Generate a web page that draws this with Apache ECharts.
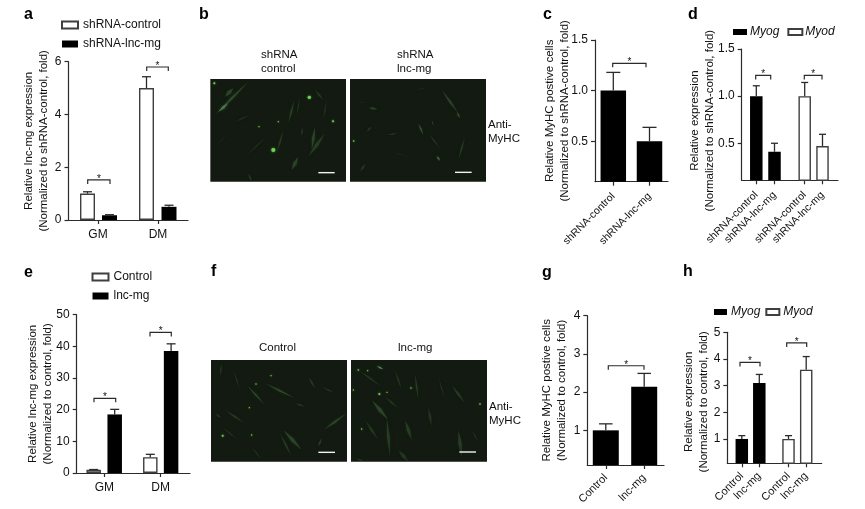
<!DOCTYPE html>
<html><head><meta charset="utf-8">
<style>html,body{margin:0;padding:0;background:#fff}#c{width:865px;height:509px}</style>
<script src="https://cdn.jsdelivr.net/npm/echarts@6/dist/echarts.min.js"></script>
</head><body><div id="c"></div>
<script>
// ---- values ----
const aGroups = ['GM', 'DM'];
const aControl = [1.0, 5.0];
const aControlErr = [1.07, 5.43];
const aLnc = [0.18, 0.5];
const aLncErr = [0.2, 0.56];

const cLabels = ['shRNA-control', 'shRNA-lnc-mg'];
const cValues = [1.0, 0.5];
const cErr = [1.18, 0.637];

const dLabels = ['shRNA-control', 'shRNA-lnc-mg', 'shRNA-control', 'shRNA-lnc-mg'];
const dMyog = [1.0, 0.41];
const dMyogErr = [1.11, 0.5];
const dMyod = [1.0, 0.47];
const dMyodErr = [1.145, 0.595];

const eGroups = ['GM', 'DM'];
const eControl = [1.0, 5.0];
const eControlErr = [1.1, 5.9];
const eLnc = [18.5, 38.5];
const eLncErr = [20.1, 40.8];

const gLabels = ['Control', 'lnc-mg'];
const gValues = [1.0, 2.14];
const gErr = [1.17, 2.49];

const hLabels = ['Control', 'lnc-mg', 'Control', 'lnc-mg'];
const hMyog = [1.0, 3.1];
const hMyogErr = [1.125, 3.42];
const hMyod = [1.0, 3.6];
const hMyodErr = [1.125, 4.09];

// ---- layout and styles ----
const FONT = '"Liberation Sans", Arial, sans-serif';
const INK = '#2b2b2b';
const BLACK = '#000000';
const WHITE = '#ffffff';
const panels = [
 {left:68.5,right:188,top:61.7,bottom:220,yMin:0,yMax:6,yTicks:[0,2,4,6],dec:0,nameGap:17,xFont:12,xMargin:9,
  yName:'Relative lnc-mg expression\n(Normalized to shRNA-control, fold)',barW:15,cap:9,
  groups:[{name:'shRNA-control',fill:WHITE,values:aControl,errs:aControlErr,slots:[19,78]},
          {name:'shRNA-lnc-mg',fill:BLACK,values:aLnc,errs:aLncErr,slots:[41,100.5]}],
  labels:aGroups,ticks:[29.5,89.5],rotate:0,
  brackets:[[19.2,41.5,1.52],[78.2,99.8,5.8]],
  legend:{left:61,top:19,orient:'vertical',itemGap:7}},
 {left:595,right:668,top:40,bottom:181.7,yMin:0.1,yMax:1.5,yTicks:[0.5,1,1.5],dec:1,nameGap:22.5,xFont:10.5,xMargin:13,
  yName:'Relative MyHC postive cells\n(Normalized to shRNA-control, fold)',barW:25.5,cap:14,
  groups:[{name:'c',fill:BLACK,values:cValues,errs:cErr,slots:[18.3,54.5]}],
  labels:cLabels,ticks:[18.3,54.5],rotate:45,brackets:[[17.7,51,1.27]]},
 {left:741.7,right:838,top:49,bottom:180.3,yMin:0.107,yMax:1.5,yTicks:[0.5,1,1.5],dec:1,namePad:[0,12,0,0],nameGap:24,xFont:10.5,xMargin:13,
  yName:'Relative expression\n(Normalized to shRNA-control, fold)',barW:12.5,cap:7,
  groups:[{name:'Myog',fill:BLACK,values:dMyog,errs:dMyogErr,slots:[14.6,32.8]},
          {name:'Myod',fill:WHITE,values:dMyod,errs:dMyodErr,slots:[63,80.8]}],
  labels:dLabels,ticks:[14.6,32.8,63,80.8],rotate:45,brackets:[[14,29,1.22],[62.6,80.3,1.22]],
  legend:{left:733,top:26,orient:'horizontal',itemGap:8,italic:true,itemW:14,itemH:6,textPad:-2}},
 {left:76.7,right:190,top:314.7,bottom:473,yMin:0,yMax:50,yTicks:[0,10,20,30,40,50],dec:0,nameGap:21,xFont:12,xMargin:9,
  yName:'Relative lnc-mg expression\n(Normalized to control, fold)',barW:14.5,cap:9,
  groups:[{name:'Control',fill:WHITE,values:eControl,errs:eControlErr,slots:[17,73.6]},
          {name:'lnc-mg',fill:BLACK,values:eLnc,errs:eLncErr,slots:[38,94.4]}],
  labels:eGroups,ticks:[27.6,84],rotate:0,
  brackets:[[17.3,39,23.6],[73.3,94.6,44.4]],
  legend:{left:91.5,top:271,orient:'vertical',itemGap:7}},
 {left:587.3,right:664,top:315.7,bottom:465,yMin:0.093,yMax:4,yTicks:[1,2,3,4],dec:0,nameGap:18,xFont:11,xMargin:11,
  yName:'Relative MyHC postive cells\n(Normalized to control, fold)',barW:26,cap:13.5,
  groups:[{name:'g',fill:BLACK,values:gValues,errs:gErr,slots:[18.5,56.9]}],
  labels:gLabels,ticks:[18.5,56.9],rotate:45,brackets:[[21,56.7,2.69]]},
 {left:727.3,right:821.7,top:332.3,bottom:463.3,yMin:0.0875,yMax:5,yTicks:[1,2,3,4,5],dec:0,namePad:[0,8,0,0],nameGap:16,xFont:11,xMargin:11,
  yName:'Relative expression\n(Normalized to control, fold)',barW:12.5,cap:7,
  groups:[{name:'Myog',fill:BLACK,values:hMyog,errs:hMyogErr,slots:[14.5,32]},
          {name:'Myod',fill:WHITE,values:hMyod,errs:hMyodErr,slots:[61.2,78.9]}],
  labels:hLabels,ticks:[14.5,32,61.2,78.9],rotate:45,brackets:[[12.7,32.7,3.87],[59.4,79.4,4.6]],
  legend:{left:714,top:306,orient:'horizontal',itemGap:5,italic:true,itemW:13,itemH:6,textPad:-1}}
];

const grids=[],xAxes=[],yAxes=[],series=[],legends=[];
panels.forEach((p,i)=>{
  grids.push({left:p.left,top:p.top,width:p.right-p.left,height:p.bottom-p.top,containLabel:false});
  const lineStyle={color:INK,width:1.2};
  xAxes.push({type:'value',gridIndex:i,min:0,max:p.right-p.left,splitLine:{show:false},
    axisLine:{onZero:false,lineStyle},
    axisTick:{length:4,lineStyle,customValues:p.ticks},
    axisLabel:{customValues:p.ticks,rotate:p.rotate,margin:p.xMargin,color:'#111',fontFamily:FONT,fontSize:p.xFont,
      hideOverlap:false,showMinLabel:true,showMaxLabel:true,formatter:v=>p.labels[p.ticks.indexOf(v)]||''}});
  yAxes.push({type:'value',gridIndex:i,min:p.yMin,max:p.yMax,splitLine:{show:false},
    axisLine:{onZero:false,lineStyle},
    axisTick:{length:4,lineStyle,customValues:p.yTicks},
    axisLabel:{customValues:p.yTicks,margin:7,color:'#111',fontFamily:FONT,fontSize:12,
      formatter:v=>Number(v).toFixed(p.dec)},
    name:p.yName,nameLocation:'middle',nameGap:p.nameGap,nameRotate:90,nameMoveOverlap:false,
    nameTextStyle:{color:'#111',fontFamily:FONT,fontSize:11.5,lineHeight:15,padding:p.namePad||0}});
  p.groups.forEach(g=>{
    series.push({type:'bar',name:g.name,xAxisIndex:i,yAxisIndex:i,barWidth:p.barW,barGap:'-100%',
      itemStyle:{color:g.fill,borderColor:g.fill===WHITE?'#3f3f3f':BLACK,borderWidth:g.fill===WHITE?1.4:0},
      data:g.values.map((v,k)=>[g.slots[k],v]),z:2,animation:false,silent:true});
    series.push({type:'custom',name:g.name+' error',xAxisIndex:i,yAxisIndex:i,z:3,silent:true,animation:false,clip:false,
      encode:{x:0,y:[1,2]},
      data:g.values.map((v,k)=>[g.slots[k],v,g.errs[k]]),
      renderItem:(params,api)=>{
        const a=api.coord([api.value(0),api.value(1)]),b=api.coord([api.value(0),api.value(2)]);
        const st={stroke:'#2b2b2b',lineWidth:1.3,fill:null};
        return {type:'group',children:[
          {type:'line',shape:{x1:a[0],y1:a[1],x2:b[0],y2:b[1]},style:st},
          {type:'line',shape:{x1:b[0]-p.cap/2,y1:b[1],x2:b[0]+p.cap/2,y2:b[1]},style:st}]};
      }});
  });
  series.push({type:'custom',name:'significance',xAxisIndex:i,yAxisIndex:i,z:4,silent:true,animation:false,clip:false,
    encode:{x:[0,1],y:2},data:p.brackets,
    renderItem:(params,api)=>{
      const a=api.coord([api.value(0),api.value(2)]),b=api.coord([api.value(1),api.value(2)]);
      return {type:'group',children:[
        {type:'polyline',shape:{points:[[a[0],a[1]+4],a,b,[b[0],b[1]+4]]},style:{stroke:'#2b2b2b',lineWidth:1.2,fill:null}},
        {type:'text',style:{text:'*',x:(a[0]+b[0])/2,y:a[1]-1,align:'center',verticalAlign:'middle',fontFamily:FONT,fontSize:10,fill:'#111'}}]};
    }});
  if(p.legend){
    const l=p.legend;
    legends.push({left:l.left,top:l.top,orient:l.orient,itemGap:l.itemGap,itemWidth:l.itemW||16,itemHeight:l.itemH||7,
      icon:'rect',selectedMode:false,padding:0,data:p.groups.map(g=>g.name),
      textStyle:{color:'#111',fontFamily:FONT,fontSize:12,fontStyle:l.italic?'italic':'normal',padding:[0,0,0,l.textPad||0]}});
  }
});

// ---- non-chart decoration: panel letters, captions and micrographs ----
const letters=[['a',24,15],['b',199,15],['c',543,15],['d',688,15],['e',24,273],['f',211,272],['g',542,273],['h',683,272]];
const captions=[['shRNA',261,55],['control',261,69],['shRNA',397,55],['lnc-mg',397,69],['Anti-',488,125],['MyHC',488,139],
  ['Control',259,348],['lnc-mg',398,348],['Anti-',489,407],['MyHC',489,421]];
const micrographs=[
 {x:46,y:237,w:407,h:308,oy:0,scale:[370,419,518],
  streaks:[[60,345,160,245,4,.35],[70,335,100,310,5,.6],[90,290,115,265,7,.3],[280,370,298,300,3,.3],[305,350,315,290,2,.2],[385,300,360,270,4,.2],[350,450,360,380,5,.3],[340,470,390,400,6,.25],[245,460,265,390,3,.25],[290,510,310,470,6,.3],[150,470,220,405,2,.2],[60,440,100,400,2,.1],[120,365,165,345,2,.2],[160,520,170,545,3,.25],[385,360,395,300,3,.15],[320,410,322,380,3,.2]],
  spots:[[235,450,6],[343,292,5],[58,250,3],[414,364,3],[250,365,2],[192,380,2]]},
 {x:465,y:237,w:408,h:308,oy:0,scale:[780,830,517],
  streaks:[[740,270,790,340,4,.3],[785,335,795,355,3,.4],[670,370,685,405,3,.4],[700,400,735,445,2,.25],[520,323,548,328,3,.35],[575,405,610,400,2,.25],[515,395,530,380,3,.25],[810,410,790,480,3,.25],[495,515,512,490,4,.2],[725,468,735,482,4,.55],[660,270,700,262,2,.12],[710,360,716,378,2,.3],[480,310,520,305,2,.1],[590,455,640,470,2,.1]],
  spots:[[476,423,2.5]]},
 {x:48,y:300,w:408,h:305,oy:260,scale:[370,420,577],
  streaks:[[210,370,300,415,3,.35],[155,375,210,435,3,.35],[90,450,150,490,3,.25],[265,510,320,570,6,.3],[255,520,290,590,3,.25],[385,510,455,460,4,.3],[370,560,380,535,3,.3],[60,460,80,475,3,.2],[80,310,75,350,3,.2],[115,330,135,390,2,.2],[340,350,360,385,3,.25],[380,380,420,400,2,.25],[300,430,330,440,3,.25],[170,560,200,600,3,.15],[80,500,130,540,3,.15]],
  spots:[[83,527,3],[228,347,2],[183,372,2],[170,525,2],[163,443,2]]},
 {x:468,y:300,w:408,h:305,oy:260,scale:[793,843,576],
  streaks:[[530,420,580,480,6,.3],[575,470,585,590,5,.25],[660,340,670,420,3,.25],[630,480,650,540,6,.25],[790,510,800,590,6,.25],[770,375,810,430,4,.25],[490,330,560,380,3,.2],[510,480,550,540,4,.2],[600,330,620,390,3,.2],[570,410,610,445,3,.2],[700,440,710,500,4,.2],[730,350,750,420,2,.2],[610,570,640,605,6,.2],[480,595,510,605,3,.2],[830,510,850,545,3,.15],[545,318,565,328,3,.8]],
  spots:[[490,330,2.5],[518,332,2],[553,402,3],[576,397,2],[648,384,2],[855,432,2.5],[500,507,2],[475,390,2]]}
];
const graphics=[];
letters.forEach(([t,x,y])=>graphics.push({type:'text',x,y,style:{text:t,fontFamily:FONT,fontSize:16,fontWeight:'bold',fill:'#000',align:'left',verticalAlign:'middle'}}));
captions.forEach(([t,x,y])=>graphics.push({type:'text',x,y,style:{text:t,fontFamily:FONT,fontSize:11.5,fill:'#111',align:'left',verticalAlign:'middle'}}));
micrographs.forEach(m=>{
  const X=v=>195+v/3,Y=v=>m.oy+v/3;
  const ch=[{type:'rect',shape:{x:X(m.x),y:Y(m.y),width:m.w/3,height:m.h/3},style:{fill:'#131a11'}}];
  m.streaks.forEach(s=>{
    const x1=X(s[0]),y1=Y(s[1]),x2=X(s[2]),y2=Y(s[3]),dx=x2-x1,dy=y2-y1,len=Math.hypot(dx,dy)||1;
    const nx=-dy/len*s[4]/3*0.9,ny=dx/len*s[4]/3*0.9,mx=(x1+x2)/2,my=(y1+y2)/2;
    ch.push({type:'polygon',shape:{points:[[x1,y1],[mx+nx,my+ny],[x2,y2],[mx-nx,my-ny]]},
      style:{fill:'rgba(105,175,105,'+(s[5]*0.85)+')',shadowBlur:4,shadowColor:'rgba(90,160,90,.45)'}});
  });
  m.spots.forEach(s=>ch.push({type:'circle',shape:{cx:X(s[0]),cy:Y(s[1]),r:s[2]/3},style:{fill:'#6fd052',shadowBlur:2,shadowColor:'#5fc040'}}));
  ch.push({type:'line',shape:{x1:X(m.scale[0]),y1:Y(m.scale[2]),x2:X(m.scale[1]),y2:Y(m.scale[2])},style:{stroke:'#f2f2f2',lineWidth:1.4}});
  graphics.push({type:'group',silent:true,children:ch});
});

const chart=echarts.init(document.getElementById('c'),null,{renderer:'canvas'});
chart.setOption({animation:false,backgroundColor:'#fff',grid:grids,xAxis:xAxes,yAxis:yAxes,series,legend:legends,graphic:graphics,tooltip:{show:false}});
</script></body></html>
